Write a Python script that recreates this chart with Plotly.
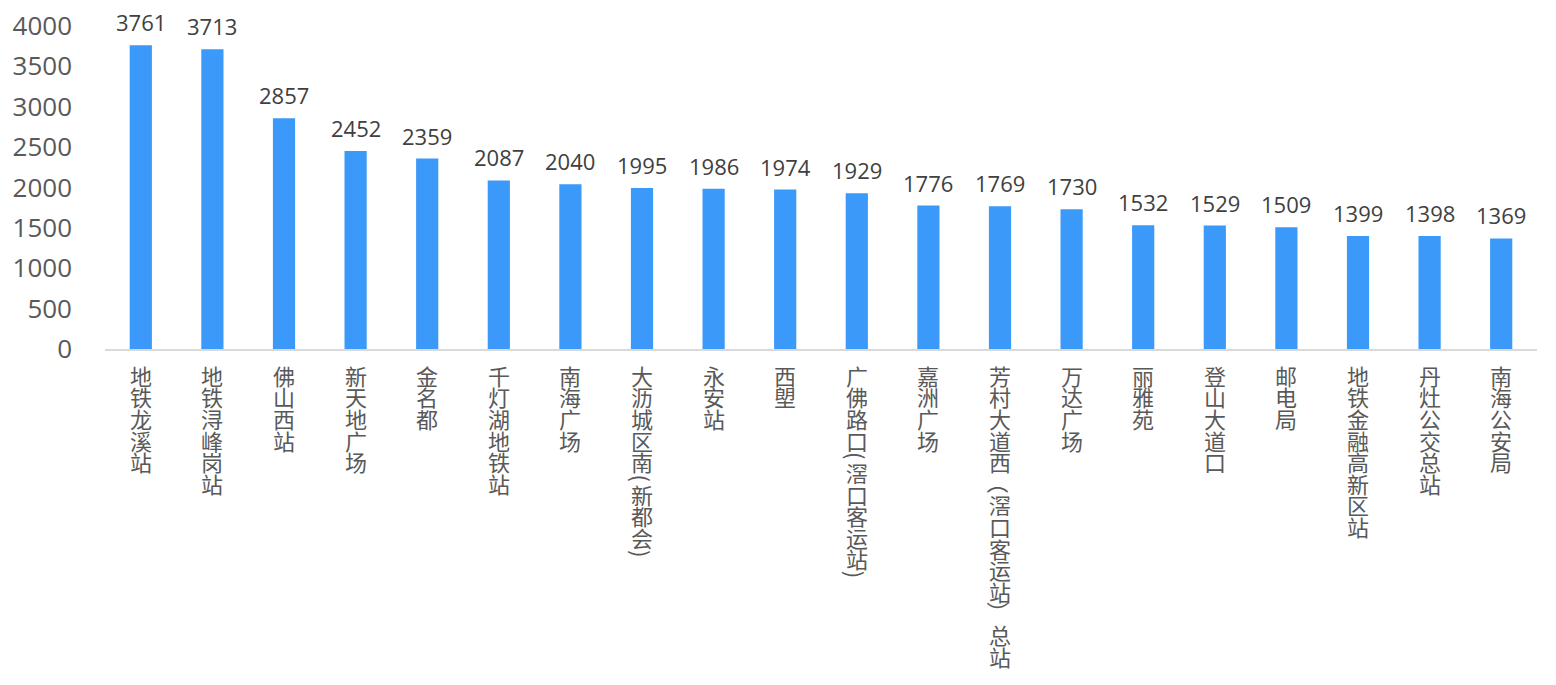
import plotly.graph_objs as go

# station names and passenger counts
stations = ['地铁龙溪站', '地铁浔峰岗站', '佛山西站', '新天地广场', '金名都', '千灯湖地铁站',
            '南海广场', '大沥城区南(新都会)', '永安站', '西塱', '广佛路口(滘口客运站)', '嘉洲广场',
            '芳村大道西（滘口客运站）总站', '万达广场', '丽雅苑', '登山大道口', '邮电局',
            '地铁金融高新区站', '丹灶公交总站', '南海公安局']
counts = [3761, 3713, 2857, 2452, 2359, 2087, 2040, 1995, 1986, 1974, 1929, 1776,
          1769, 1730, 1532, 1529, 1509, 1399, 1398, 1369]
y_ticks = [0, 500, 1000, 1500, 2000, 2500, 3000, 3500, 4000]

bar_color = '#3A99F9'
text_color = '#595959'
cjk_font = 'Noto Sans CJK SC'
num_font = 'Open Sans'

bars = go.Bar(
    x=stations,
    y=counts,
    marker_color=bar_color,
    marker_line_width=0,
    hoverinfo='x+y')

fig = go.Figure([bars])

annotations = []

# value labels above bars
for name, v in zip(stations, counts):
    annotations.append(dict(
        x=name, y=v, xref='x', yref='y', text=str(v), showarrow=False,
        yanchor='middle', yshift=23,
        font=dict(family=num_font, size=22, color='#404040')))

# vertical category labels, one char per annotation
pitch = 21.6
for name in stations:
    offset = 15
    for ch in name:
        half = ch in '()'
        step = pitch * 0.5 if half else pitch
        rotate = ch in '()（）'
        annotations.append(dict(
            x=name, y=0, xref='x', yref='y', text=ch, showarrow=False,
            yanchor='middle', yshift=-(offset + step / 2),
            textangle=90 if rotate else 0,
            font=dict(family=cjk_font, size=22, color=text_color)))
        offset += step

# page body adds 8px margin, so the figure is a bit smaller than the window
fig.update_layout(
    width=1540, height=669,
    margin=dict(l=97, r=11, t=18, b=328, autoexpand=False),
    paper_bgcolor='white', plot_bgcolor='white',
    bargap=0.69,
    showlegend=False,
    annotations=annotations,
    xaxis=dict(showticklabels=False, showline=True, linecolor='#D9D9D9',
               linewidth=1.5, ticks='', showgrid=False, zeroline=False),
    yaxis=dict(range=[0, 4000], tickvals=y_ticks, showgrid=False,
               zeroline=False, showline=False, ticks='',
               ticklabelstandoff=32, ticklabeloverflow='allow',
               tickfont=dict(family=num_font, size=26, color=text_color))
)

fig.write_html("out.html")
